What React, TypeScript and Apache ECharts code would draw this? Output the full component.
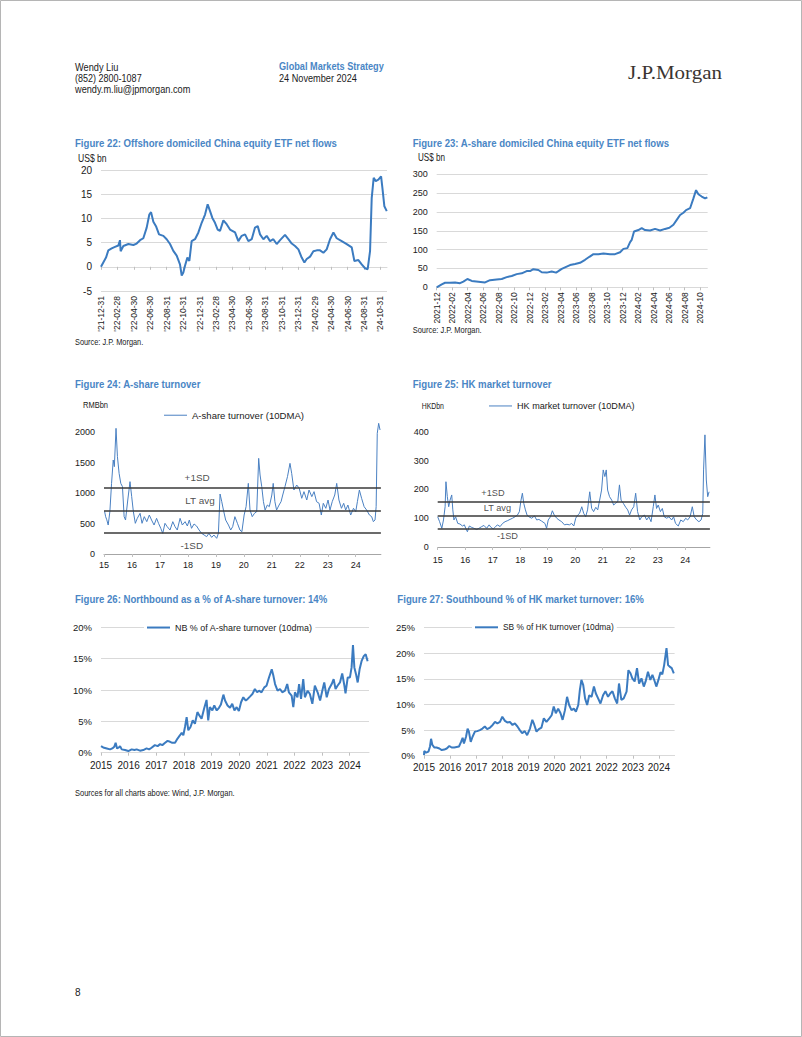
import React, { useEffect, useRef } from "react";
import * as echarts from "echarts";

// ---------- Figure 22: Offshore domiciled China equity ETF net flows (US$ bn) ----------
// x = months since 2021-12-31
const f22TickLabels = ["'21-12-31", "'22-02-28", "'22-04-30", "'22-06-30", "'22-08-31", "'22-10-31", "'22-12-31", "'23-02-28", "'23-04-30", "'23-06-30", "'23-08-31", "'23-10-31", "'23-12-31", "'24-02-29", "'24-04-30", "'24-06-30", "'24-08-31", "'24-10-31"];
const f22Flows: [number, number][] = [
  [0, 0], [0.28, 0.9], [0.61, 1.9], [0.89, 3.4], [1.3, 3.8], [1.7, 4.1], [2.11, 4.4], [2.31, 5.5], [2.39, 3.2], [2.72, 4.3],
  [3.33, 4.7], [3.94, 4.5], [4.34, 4.8], [4.75, 5.5], [5.15, 5.9], [5.56, 8.1], [5.88, 10.8], [6.09, 11.3], [6.37, 9.3], [6.69, 8.4],
  [7.06, 6.7], [7.59, 6.4], [7.99, 5.7], [8.4, 4.7], [8.8, 3.3], [9.21, 2.3], [9.61, 0.5], [9.82, -1.8], [10.02, -1.2], [10.22, 0.2],
  [10.51, 1.9], [10.75, 1.2], [11.03, 5.3], [11.44, 5.7], [11.85, 7.1], [12.25, 9.1], [12.66, 10.8], [12.98, 12.9], [13.27, 11.5], [13.55, 10.1],
  [13.87, 9.1], [14.2, 7.7], [14.48, 7.4], [14.89, 9.6], [15.29, 8.8], [15.7, 7.7], [16.31, 7.1], [16.71, 5.3], [17.12, 6.4], [17.53, 6.7],
  [17.93, 5.3], [18.34, 5.7], [18.74, 8.1], [19.07, 8.4], [19.35, 6.7], [19.76, 5.7], [20.16, 6.4], [20.57, 5.3], [20.97, 5.7], [21.38, 4.7],
  [21.79, 5.5], [22.39, 6.6], [22.8, 5.7], [23.21, 4.8], [23.61, 4.3], [24.02, 3.6], [24.42, 1.9], [24.75, 0.9], [25.03, 1.6], [25.44, 2.1],
  [25.84, 3.2], [26.25, 3.4], [26.65, 3.4], [27.06, 2.9], [27.46, 3.6], [27.87, 5.7], [28.28, 7.1], [28.68, 5.9], [29.29, 5.3], [29.9, 4.7],
  [30.51, 4.0], [30.83, 1.2], [31.32, 1.4], [31.72, 0.5], [32.13, -0.3], [32.45, -0.5], [32.74, 3.3], [32.94, 14.2], [33.18, 18.4], [33.43, 17.7],
  [33.75, 18.0], [34.08, 18.7], [34.24, 16.3], [34.48, 12.5], [34.77, 11.5],
];

// ---------- Figure 23: A-share domiciled China equity ETF net flows (US$ bn) ----------
// x = months since 2021-12
const f23TickLabels = ["2021-12", "2022-02", "2022-04", "2022-06", "2022-08", "2022-10", "2022-12", "2023-02", "2023-04", "2023-06", "2023-08", "2023-10", "2023-12", "2024-02", "2024-04", "2024-06", "2024-08", "2024-10"];
const f23Flows: [number, number][] = [
  [0, 0], [0.65, 8], [1.08, 12], [1.72, 12], [2.37, 13], [3.01, 11], [3.44, 15], [3.96, 22], [4.52, 17], [5.38, 15],
  [6.24, 13], [6.88, 19], [7.74, 21], [8.39, 22], [9.03, 27], [9.68, 30], [10.32, 35], [10.97, 37], [11.61, 43], [12.04, 43],
  [12.47, 48], [13.12, 46], [13.55, 40], [14.19, 39], [14.84, 42], [15.4, 39], [15.7, 43], [16.13, 49], [16.77, 55], [17.2, 59],
  [17.85, 62], [18.49, 65], [19.14, 73], [19.7, 81], [20.22, 88], [20.86, 88], [21.51, 90], [22.37, 88], [23.01, 88], [23.66, 93],
  [24.09, 102], [24.6, 104], [24.95, 120], [25.16, 126], [25.46, 148], [26.02, 152], [26.45, 157], [26.88, 152], [27.53, 151], [28.17, 155],
  [28.82, 151], [29.46, 155], [30.02, 158], [30.54, 166], [30.97, 179], [31.4, 192], [31.83, 198], [32.17, 205], [32.69, 210], [33.12, 236],
  [33.46, 258], [33.76, 247], [34.19, 241], [34.62, 236], [34.92, 239],
];

// ---------- Figure 24: A-share turnover (RMBbn) ----------
const yearTicks = [2015, 2016, 2017, 2018, 2019, 2020, 2021, 2022, 2023, 2024];
const bandLabels = ["+1SD", "LT avg", "-1SD"];
const f24Bands = [1082, 705, 344];
const f24Turnover: [number, number][] = [
  [2015.02, 700], [2015.06, 610], [2015.1, 560], [2015.15, 475], [2015.21, 694], [2015.27, 1158], [2015.33, 1541], [2015.37, 1432], [2015.43, 2060], [2015.48, 1596],
  [2015.54, 1322], [2015.6, 1158], [2015.66, 1104], [2015.72, 612], [2015.77, 557], [2015.85, 885], [2015.93, 1186], [2015.99, 940],
  [2016.05, 694], [2016.12, 503], [2016.19, 585], [2016.29, 667], [2016.36, 503], [2016.44, 612], [2016.53, 530], [2016.62, 639], [2016.7, 557], [2016.79, 475], [2016.88, 585], [2016.95, 503],
  [2017.03, 421], [2017.1, 339], [2017.18, 503], [2017.26, 448], [2017.36, 393], [2017.46, 530], [2017.54, 448], [2017.62, 393], [2017.72, 585], [2017.8, 475], [2017.9, 530], [2017.98, 459],
  [2018.05, 557], [2018.13, 421], [2018.22, 492], [2018.31, 459], [2018.4, 393], [2018.49, 339], [2018.58, 311], [2018.67, 284], [2018.75, 339], [2018.85, 273], [2018.93, 311],
  [2019.03, 257], [2019.09, 339], [2019.15, 983], [2019.21, 858], [2019.27, 721], [2019.35, 557], [2019.45, 475], [2019.53, 393], [2019.6, 448], [2019.68, 612], [2019.77, 503], [2019.86, 393], [2019.93, 366],
  [2020.01, 639], [2020.08, 776], [2020.16, 1158], [2020.22, 721], [2020.3, 612], [2020.38, 667], [2020.46, 694], [2020.53, 1568], [2020.58, 1295], [2020.64, 1104], [2020.7, 858], [2020.76, 721], [2020.84, 803], [2020.91, 776],
  [2021.0, 967], [2021.05, 1158], [2021.11, 858], [2021.17, 721], [2021.26, 803], [2021.33, 858], [2021.39, 967], [2021.47, 1104], [2021.56, 1268], [2021.65, 1486], [2021.71, 1322], [2021.79, 1049], [2021.89, 1131],
  [2021.98, 1077], [2022.07, 913], [2022.15, 1022], [2022.25, 885], [2022.33, 1049], [2022.43, 940], [2022.51, 1022], [2022.6, 858], [2022.69, 831], [2022.77, 639], [2022.84, 831], [2022.93, 749],
  [2023.01, 885], [2023.08, 721], [2023.16, 858], [2023.25, 967], [2023.32, 1158], [2023.4, 885], [2023.49, 749], [2023.57, 831], [2023.64, 721], [2023.72, 803], [2023.82, 639], [2023.92, 749],
  [2024.0, 694], [2024.06, 858], [2024.13, 1049], [2024.21, 913], [2024.3, 776], [2024.39, 721], [2024.49, 639], [2024.57, 612], [2024.63, 530], [2024.69, 557], [2024.73, 776], [2024.77, 1978], [2024.82, 2142], [2024.87, 2033],
];

// ---------- Figure 25: HK market turnover (HKDbn) ----------
const f25Bands = [158, 110, 64];
const f25Turnover: [number, number][] = [
  [2015.0, 105], [2015.07, 88], [2015.15, 65], [2015.21, 94], [2015.27, 140], [2015.3, 227], [2015.35, 175], [2015.4, 140], [2015.45, 163], [2015.51, 181],
  [2015.55, 129], [2015.59, 94], [2015.65, 105], [2015.73, 82], [2015.81, 80], [2015.9, 73], [2015.97, 77],
  [2016.02, 65], [2016.08, 53], [2016.15, 73], [2016.24, 68], [2016.32, 65], [2016.42, 61], [2016.5, 65], [2016.6, 71], [2016.68, 75], [2016.78, 65], [2016.87, 77], [2016.94, 68],
  [2017.02, 63], [2017.08, 68], [2017.17, 77], [2017.27, 71], [2017.36, 82], [2017.45, 88], [2017.55, 92], [2017.63, 96], [2017.72, 100], [2017.81, 105], [2017.9, 111], [2017.97, 123],
  [2018.03, 163], [2018.08, 187], [2018.13, 152], [2018.19, 129], [2018.25, 111], [2018.32, 105], [2018.42, 100], [2018.52, 108], [2018.6, 94], [2018.68, 96], [2018.78, 90], [2018.9, 82], [2018.96, 65],
  [2019.02, 94], [2019.1, 105], [2019.17, 126], [2019.24, 111], [2019.33, 100], [2019.41, 94], [2019.51, 88], [2019.61, 77], [2019.7, 79], [2019.79, 77], [2019.87, 82], [2019.95, 73],
  [2020.02, 100], [2020.09, 111], [2020.16, 117], [2020.24, 140], [2020.31, 117], [2020.38, 105], [2020.45, 129], [2020.53, 192], [2020.6, 134], [2020.67, 123], [2020.75, 138], [2020.82, 129], [2020.89, 163],
  [2020.96, 198], [2021.02, 268], [2021.08, 245], [2021.13, 268], [2021.18, 198], [2021.25, 175], [2021.33, 163], [2021.4, 146], [2021.47, 152], [2021.55, 158], [2021.61, 216], [2021.67, 163], [2021.75, 152], [2021.84, 138], [2021.91, 129],
  [2021.98, 111], [2022.05, 129], [2022.13, 140], [2022.2, 187], [2022.27, 123], [2022.35, 94], [2022.42, 105], [2022.52, 111], [2022.6, 94], [2022.68, 105], [2022.76, 88], [2022.84, 140], [2022.9, 181],
  [2022.96, 134], [2023.02, 146], [2023.1, 123], [2023.17, 134], [2023.24, 105], [2023.33, 100], [2023.41, 105], [2023.51, 94], [2023.58, 105], [2023.65, 82], [2023.75, 73], [2023.84, 94], [2023.93, 88],
  [2024.02, 100], [2024.09, 94], [2024.18, 105], [2024.26, 140], [2024.33, 105], [2024.42, 94], [2024.5, 88], [2024.58, 94], [2024.64, 117], [2024.67, 268], [2024.72, 390], [2024.77, 233], [2024.82, 175], [2024.87, 192],
];

// ---------- Figure 26: Northbound as % of A-share turnover ----------
const f26NorthboundShare: [number, number][] = [
  [2015.0, 1.05], [2015.08, 0.84], [2015.21, 0.68], [2015.33, 0.53], [2015.41, 0.68], [2015.48, 0.95], [2015.53, 1.58], [2015.58, 0.68], [2015.65, 0.84], [2015.69, 1.05], [2015.75, 0.53], [2015.87, 0.42],
  [2015.99, 0.26], [2016.11, 0.53], [2016.21, 0.42], [2016.29, 0.53], [2016.41, 0.32], [2016.53, 0.42], [2016.65, 0.68], [2016.74, 0.53], [2016.83, 0.79],
  [2016.95, 1.21], [2017.05, 1.05], [2017.14, 1.37], [2017.22, 1.21], [2017.32, 1.58], [2017.41, 1.89], [2017.5, 1.74], [2017.58, 1.58], [2017.68, 1.58], [2017.77, 2.26], [2017.86, 2.79], [2017.92, 3.16],
  [2017.98, 2.79], [2018.04, 4.1], [2018.1, 5.68], [2018.16, 3.58], [2018.24, 4.1], [2018.32, 5.16], [2018.4, 4.63], [2018.49, 6.47], [2018.56, 5.95], [2018.64, 5.42], [2018.73, 7.0], [2018.82, 8.42], [2018.88, 5.16],
  [2018.94, 7.26], [2019.03, 6.74], [2019.1, 7.53], [2019.19, 6.74], [2019.27, 7.16], [2019.34, 7.68], [2019.43, 9.26], [2019.49, 8.32], [2019.58, 7.53], [2019.67, 7.16], [2019.75, 7.79], [2019.83, 6.74], [2019.91, 7.26],
  [2019.99, 6.63], [2020.07, 8.05], [2020.15, 8.84], [2020.24, 8.32], [2020.31, 8.58], [2020.39, 8.95], [2020.48, 9.37], [2020.57, 10.16], [2020.65, 9.63], [2020.72, 9.89], [2020.81, 9.63], [2020.91, 10.42],
  [2020.99, 10.68], [2021.08, 12.0], [2021.18, 13.3], [2021.24, 12.26], [2021.3, 10.95], [2021.39, 9.9], [2021.48, 10.16], [2021.56, 9.63], [2021.66, 9.9], [2021.74, 10.95], [2021.8, 9.63], [2021.9, 9.1],
  [2021.96, 7.26], [2022.02, 9.63], [2022.11, 8.84], [2022.17, 10.95], [2022.24, 8.58], [2022.32, 11.74], [2022.38, 8.84], [2022.48, 9.89], [2022.56, 9.37], [2022.65, 7.79], [2022.74, 10.68], [2022.84, 9.63], [2022.93, 8.32],
  [2023.01, 9.89], [2023.08, 11.2], [2023.17, 8.84], [2023.25, 10.16], [2023.35, 10.95], [2023.42, 11.74], [2023.49, 10.16], [2023.56, 10.68], [2023.65, 11.2], [2023.73, 12.63], [2023.81, 10.68], [2023.85, 9.47],
  [2023.93, 12.0], [2024.01, 12.0], [2024.07, 13.6], [2024.12, 17.16], [2024.17, 13.6], [2024.23, 12.53], [2024.29, 11.2], [2024.36, 13.3], [2024.43, 14.6], [2024.51, 15.4], [2024.58, 15.7], [2024.65, 14.6],
];

// ---------- Figure 27: Southbound % of HK market turnover ----------
const f27SouthboundShare: [number, number][] = [
  [2015.0, 0.1], [2015.01, 0.9], [2015.08, 0.6], [2015.17, 0.8], [2015.23, 1.8], [2015.27, 3.3], [2015.32, 2.1], [2015.4, 1.6], [2015.48, 1.6], [2015.59, 1.4], [2015.68, 1.1], [2015.78, 1.2], [2015.87, 1.4],
  [2015.97, 1.9], [2016.06, 1.6], [2016.16, 1.6], [2016.25, 1.7], [2016.34, 1.8], [2016.42, 2.7], [2016.48, 3.5], [2016.53, 2.4], [2016.61, 3.7], [2016.67, 5.3], [2016.72, 4.7], [2016.79, 2.7], [2016.86, 3.7],
  [2016.95, 4.7], [2017.04, 4.8], [2017.14, 5.0], [2017.24, 5.3], [2017.33, 5.7], [2017.42, 5.2], [2017.53, 5.5], [2017.63, 6.0], [2017.72, 6.6], [2017.81, 6.3],
  [2017.91, 6.6], [2018.0, 7.6], [2018.1, 6.8], [2018.19, 6.5], [2018.29, 6.6], [2018.39, 6.0], [2018.48, 6.3], [2018.58, 5.7], [2018.67, 5.0], [2018.76, 4.4],
  [2018.86, 4.8], [2018.95, 4.0], [2019.06, 5.3], [2019.15, 7.0], [2019.22, 6.1], [2019.31, 4.7], [2019.4, 5.2], [2019.5, 5.5], [2019.59, 7.3], [2019.69, 6.6], [2019.8, 7.3],
  [2019.89, 7.9], [2019.97, 9.6], [2020.05, 8.3], [2020.14, 9.2], [2020.23, 8.3], [2020.31, 7.0], [2020.4, 8.9], [2020.48, 11.5], [2020.56, 9.9], [2020.65, 8.9], [2020.74, 9.2], [2020.82, 8.6],
  [2020.91, 9.9], [2020.97, 12.8], [2021.03, 14.8], [2021.1, 13.8], [2021.17, 11.2], [2021.25, 9.9], [2021.33, 11.8], [2021.42, 11.5], [2021.51, 13.5], [2021.58, 12.2], [2021.67, 11.2], [2021.76, 10.2],
  [2021.86, 11.8], [2021.95, 12.6], [2022.05, 11.5], [2022.14, 12.2], [2022.22, 12.6], [2022.31, 11.2], [2022.4, 10.2], [2022.47, 14.1], [2022.56, 10.9], [2022.65, 11.2], [2022.76, 12.5], [2022.83, 16.7], [2022.91, 16.1],
  [2022.98, 15.1], [2023.07, 14.5], [2023.16, 17.1], [2023.24, 14.1], [2023.33, 15.1], [2023.42, 13.5], [2023.49, 14.5], [2023.58, 16.4], [2023.67, 14.8], [2023.75, 15.8], [2023.84, 14.5],
  [2023.9, 13.5], [2023.98, 14.8], [2024.06, 16.3], [2024.13, 15.9], [2024.2, 17.7], [2024.29, 21.0], [2024.35, 17.7], [2024.41, 17.4], [2024.49, 17.1], [2024.57, 16.1],
];

// ---------- styling ----------
const FONT = "'Liberation Sans', Arial, sans-serif";
const NARROW = "'Liberation Sans Narrow', 'Arial Narrow', 'Liberation Sans', Arial, sans-serif";
const SERIF = "'Liberation Serif', 'Times New Roman', serif";
const BLUE_TITLE = "#4A86C5";
const LINE_BLUE = "#3B7BC0";
const THIN_BLUE = "#4A80C2";
const GRID_GRAY = "#D9D9D9";
const TEXT = "#1a1a1a";

let measureCtx: CanvasRenderingContext2D | null = null;
function measure(text: string, size: number, family: string, weight = "normal") {
  if (!measureCtx) measureCtx = document.createElement("canvas").getContext("2d");
  measureCtx!.font = `${weight} ${size}px ${family}`;
  return measureCtx!.measureText(text).width;
}

function fitText(text: string, x: number, y: number, width: number, size: number, opts: any = {}) {
  const family = opts.family || FONT;
  const weight = opts.weight || "normal";
  const natural = measure(text, size, family, weight);
  return {
    type: "text",
    x,
    y,
    scaleX: width ? width / natural : 1,
    silent: true,
    style: { text, fontSize: size, fontFamily: family, fontWeight: weight, fill: opts.color || TEXT, align: "left", verticalAlign: "middle" },
  };
}

function legendAt(name: string, left: number, centerY: number, targetW: number, lineH: number, bg: boolean) {
  const size = Math.min(10, ((10 * targetW) / measure(name, 10, NARROW)) * 1.1);
  const pad = bg ? [1, 3] : 0;
  return {
    data: [name],
    left: bg ? left - 3 : left,
    top: centerY - size / 2 - (bg ? 1 : 0),
    itemWidth: 23,
    itemHeight: lineH,
    icon: "rect",
    padding: pad,
    backgroundColor: bg ? "#ffffff" : "transparent",
    selectedMode: false,
    textStyle: { fontSize: size, fontFamily: NARROW, color: TEXT },
  };
}

function bandLabelSeries(xIdx: number, yIdx: number, bands: number[], xs: number[], dists: number[], avgTargetW: number) {
  const size = Math.min(10, ((10 * avgTargetW) / measure("LT avg", 10, NARROW)) * 1.1);
  return {
    type: "scatter",
    xAxisIndex: xIdx,
    yAxisIndex: yIdx,
    symbolSize: 1,
    silent: true,
    itemStyle: { color: "rgba(0,0,0,0)" },
    data: bands.map((b, i) => ({
      value: [xs[i], b],
      label: {
        show: true,
        position: i === bands.length - 1 ? "bottom" : "top",
        distance: dists[i],
        formatter: bandLabels[i],
        fontSize: size,
        fontFamily: NARROW,
        color: TEXT,
      },
    })),
  };
}

function bandMarkLine(bands: number[]) {
  return {
    silent: true,
    symbol: ["none", "none"],
    label: { show: false },
    lineStyle: { color: "#3a3a3a", type: "solid", width: 1.5 },
    data: bands.map((b) => ({ yAxis: b })),
  };
}

function buildOption() {
  const f22Ticks = f22TickLabels.map((_, i) => i * 2);
  const f23Ticks = f23TickLabels.map((_, i) => i * 2);
  const labelStyle = { color: TEXT, fontFamily: FONT };
  const hiddenLine = { show: false };
  const tickStyle = { lineStyle: { color: "#BFBFBF" } };

  const yearAxis = (gridIndex: number, max: number, fontSize: number, margin: number, short: boolean) => ({
    gridIndex,
    type: "value",
    min: 2015,
    max,
    axisLine: { show: true, onZero: false, lineStyle: { color: short ? "#A6A6A6" : GRID_GRAY } },
    axisTick: { show: true, length: 3, customValues: yearTicks, ...tickStyle },
    axisLabel: { ...labelStyle, fontSize, margin, customValues: yearTicks, formatter: (v: number) => (short ? String(v - 2000) : String(v)) },
    splitLine: hiddenLine,
  });

  const graphic: any[] = [
    { type: "rect", shape: { x: 0.5, y: 0.5, width: 801, height: 1036 }, style: { fill: "none", stroke: "#B5B5B5", lineWidth: 1 }, silent: true },
    fitText("Wendy Liu", 75, 67.5, 43.5, 10),
    fitText("(852) 2800-1087", 75, 78.5, 66.7, 10),
    fitText("wendy.m.liu@jpmorgan.com", 75, 89.5, 115.5, 10),
    fitText("Global Markets Strategy", 279, 66.5, 105, 10, { weight: "bold", color: BLUE_TITLE }),
    fitText("24 November 2024", 279, 78.5, 78, 10),
    fitText("J.P.Morgan", 628, 72, 94, 19, { family: SERIF, color: "#3A3431" }),

    fitText("Figure 22: Offshore domiciled China equity ETF net flows", 75, 143, 262, 11.5, { family: NARROW, weight: "bold", color: BLUE_TITLE }),
    fitText("Figure 23: A-share domiciled China equity ETF net flows", 412.7, 143, 257, 11.5, { family: NARROW, weight: "bold", color: BLUE_TITLE }),
    fitText("Figure 24: A-share turnover", 75, 384, 126, 11.5, { family: NARROW, weight: "bold", color: BLUE_TITLE }),
    fitText("Figure 25: HK market turnover", 412.7, 384, 139, 11.5, { family: NARROW, weight: "bold", color: BLUE_TITLE }),
    fitText("Figure 26: Northbound as a % of A-share turnover: 14%", 75, 599, 253, 11.5, { family: NARROW, weight: "bold", color: BLUE_TITLE }),
    fitText("Figure 27: Southbound % of HK market turnover: 16%", 397.3, 599, 247, 11.5, { family: NARROW, weight: "bold", color: BLUE_TITLE }),

    fitText("US$ bn", 78, 159, 28.7, 10),
    fitText("US$ bn", 418, 158, 27, 10),
    fitText("RMBbn", 83, 405, 25, 8.5),
    fitText("HKDbn", 421.7, 406.5, 22.3, 8.5),
    fitText("Source: J.P. Morgan.", 75, 342, 68.3, 9, { family: NARROW }),
    fitText("Source: J.P. Morgan.", 412.7, 330, 69, 9, { family: NARROW }),
    fitText("Sources for all charts above: Wind, J.P. Morgan.", 75, 793, 160, 9, { family: NARROW }),
    fitText("8", 75, 992, 0, 10),
  ];

  return {
    animation: false,
    backgroundColor: "#ffffff",
    textStyle: { fontFamily: FONT },
    graphic,
    legend: [
      legendAt("A-share turnover (10DMA)", 164, 415, 102, 1, false),
      legendAt("HK market turnover (10DMA)", 489, 406, 107, 1, false),
      legendAt("NB % of A-share turnover (10dma)", 147, 627.5, 125, 2, true),
      legendAt("SB % of HK turnover (10dma)", 475, 627.5, 101, 2, true),
    ],
    grid: [
      { left: 101, top: 170, width: 286, height: 121 },
      { left: 436.7, top: 174.3, width: 270.9, height: 113 },
      { left: 104, top: 416.75, width: 276.9, height: 137.25 },
      { left: 437.7, top: 417.6, width: 272.2, height: 129.4 },
      { left: 101, top: 627.3, width: 268, height: 125.4 },
      { left: 424, top: 627.7, width: 250.6, height: 128 },
    ],
    xAxis: [
      // 0: fig22 axis on zero with ticks
      {
        gridIndex: 0, type: "value", min: 0, max: 34.8,
        axisLine: { show: true, onZero: true, lineStyle: { color: GRID_GRAY } },
        axisTick: { show: true, length: 3, customValues: f22Ticks, ...tickStyle },
        axisLabel: { show: false },
        splitLine: hiddenLine,
      },
      // 1: fig22 labels at bottom
      {
        gridIndex: 0, type: "value", min: 0, max: 34.8, position: "bottom",
        axisLine: { show: false, onZero: false },
        axisTick: { show: false },
        axisLabel: {
          ...labelStyle, fontSize: 8.5, rotate: 90, margin: 5, customValues: f22Ticks,
          formatter: (v: number) => f22TickLabels[Math.round(v / 2)] ?? "",
        },
        splitLine: hiddenLine,
      },
      // 2: fig23
      {
        gridIndex: 1, type: "value", min: 0, max: 34.95,
        axisLine: { show: true, lineStyle: { color: GRID_GRAY } },
        axisTick: { show: true, length: 3, customValues: f23Ticks, ...tickStyle },
        axisLabel: {
          ...labelStyle, fontSize: 8.5, rotate: 90, margin: 5, customValues: f23Ticks,
          formatter: (v: number) => f23TickLabels[Math.round(v / 2)] ?? "",
        },
        splitLine: hiddenLine,
      },
      yearAxis(2, 2024.9, 9, 6, true),
      yearAxis(3, 2024.9, 9, 8, true),
      yearAxis(4, 2024.7, 10, 8, false),
      yearAxis(5, 2024.6, 10, 7, false),
    ],
    yAxis: [
      {
        gridIndex: 0, type: "value", min: -5, max: 20, interval: 5,
        axisLine: hiddenLine, axisTick: hiddenLine,
        axisLabel: { ...labelStyle, fontSize: 10, margin: 9 },
        splitLine: { lineStyle: { color: GRID_GRAY } },
      },
      {
        gridIndex: 1, type: "value", min: 0, max: 300, interval: 50,
        axisLine: hiddenLine, axisTick: hiddenLine,
        axisLabel: { ...labelStyle, fontSize: 9, margin: 9 },
        splitLine: { lineStyle: { color: GRID_GRAY } },
      },
      {
        gridIndex: 2, type: "value", min: 0, max: 2250, interval: 500,
        axisLine: hiddenLine, axisTick: hiddenLine,
        axisLabel: { ...labelStyle, fontSize: 9, margin: 9, formatter: (v: number) => (v % 500 === 0 ? String(v) : "") },
        splitLine: hiddenLine,
      },
      {
        gridIndex: 3, type: "value", min: 0, max: 450, interval: 100,
        axisLine: hiddenLine, axisTick: hiddenLine,
        axisLabel: { ...labelStyle, fontSize: 9, margin: 9, formatter: (v: number) => (v % 100 === 0 ? String(v) : "") },
        splitLine: hiddenLine,
      },
      {
        gridIndex: 4, type: "value", min: 0, max: 20, interval: 5,
        axisLine: hiddenLine, axisTick: hiddenLine,
        axisLabel: { ...labelStyle, fontSize: 9.5, margin: 9, formatter: (v: number) => `${v}%` },
        splitLine: { lineStyle: { color: GRID_GRAY } },
      },
      {
        gridIndex: 5, type: "value", min: 0, max: 25, interval: 5,
        axisLine: hiddenLine, axisTick: hiddenLine,
        axisLabel: { ...labelStyle, fontSize: 9.5, margin: 9, formatter: (v: number) => `${v}%` },
        splitLine: { lineStyle: { color: GRID_GRAY } },
      },
    ],
    series: [
      {
        name: "Offshore ETF net flows", type: "line", xAxisIndex: 0, yAxisIndex: 0, data: f22Flows,
        symbol: "none", lineStyle: { color: LINE_BLUE, width: 2 }, itemStyle: { color: LINE_BLUE },
      },
      {
        name: "A-share ETF net flows", type: "line", xAxisIndex: 2, yAxisIndex: 1, data: f23Flows,
        symbol: "none", lineStyle: { color: LINE_BLUE, width: 2 }, itemStyle: { color: LINE_BLUE },
      },
      {
        name: "A-share turnover (10DMA)", type: "line", xAxisIndex: 3, yAxisIndex: 2, data: f24Turnover,
        symbol: "none", lineStyle: { color: THIN_BLUE, width: 1 }, itemStyle: { color: THIN_BLUE },
        markLine: bandMarkLine(f24Bands),
      },
      bandLabelSeries(3, 2, f24Bands, [2018.33, 2018.43, 2018.14], [5, 5, 7], 27),
      {
        name: "HK market turnover (10DMA)", type: "line", xAxisIndex: 4, yAxisIndex: 3, data: f25Turnover,
        symbol: "none", lineStyle: { color: THIN_BLUE, width: 1 }, itemStyle: { color: THIN_BLUE },
        markLine: bandMarkLine(f25Bands),
      },
      bandLabelSeries(4, 3, f25Bands, [2017.01, 2017.17, 2017.54], [4, 2, 2], 25),
      {
        name: "NB % of A-share turnover (10dma)", type: "line", xAxisIndex: 5, yAxisIndex: 4, data: f26NorthboundShare,
        symbol: "none", lineStyle: { color: LINE_BLUE, width: 2 }, itemStyle: { color: LINE_BLUE },
      },
      {
        name: "SB % of HK turnover (10dma)", type: "line", xAxisIndex: 6, yAxisIndex: 5, data: f27SouthboundShare,
        symbol: "none", lineStyle: { color: LINE_BLUE, width: 2 }, itemStyle: { color: LINE_BLUE },
      },
    ],
  };
}

export default function App() {
  const ref = useRef<HTMLDivElement>(null);
  useEffect(() => {
    if (!ref.current) return;
    const chart = echarts.init(ref.current, null, { renderer: "svg" });
    chart.setOption(buildOption() as any);
    return () => chart.dispose();
  }, []);
  return (
    <div
      ref={ref}
      style={{ position: "absolute", left: 0, top: 0, width: 802, height: 1037, background: "#ffffff" }}
    />
  );
}
